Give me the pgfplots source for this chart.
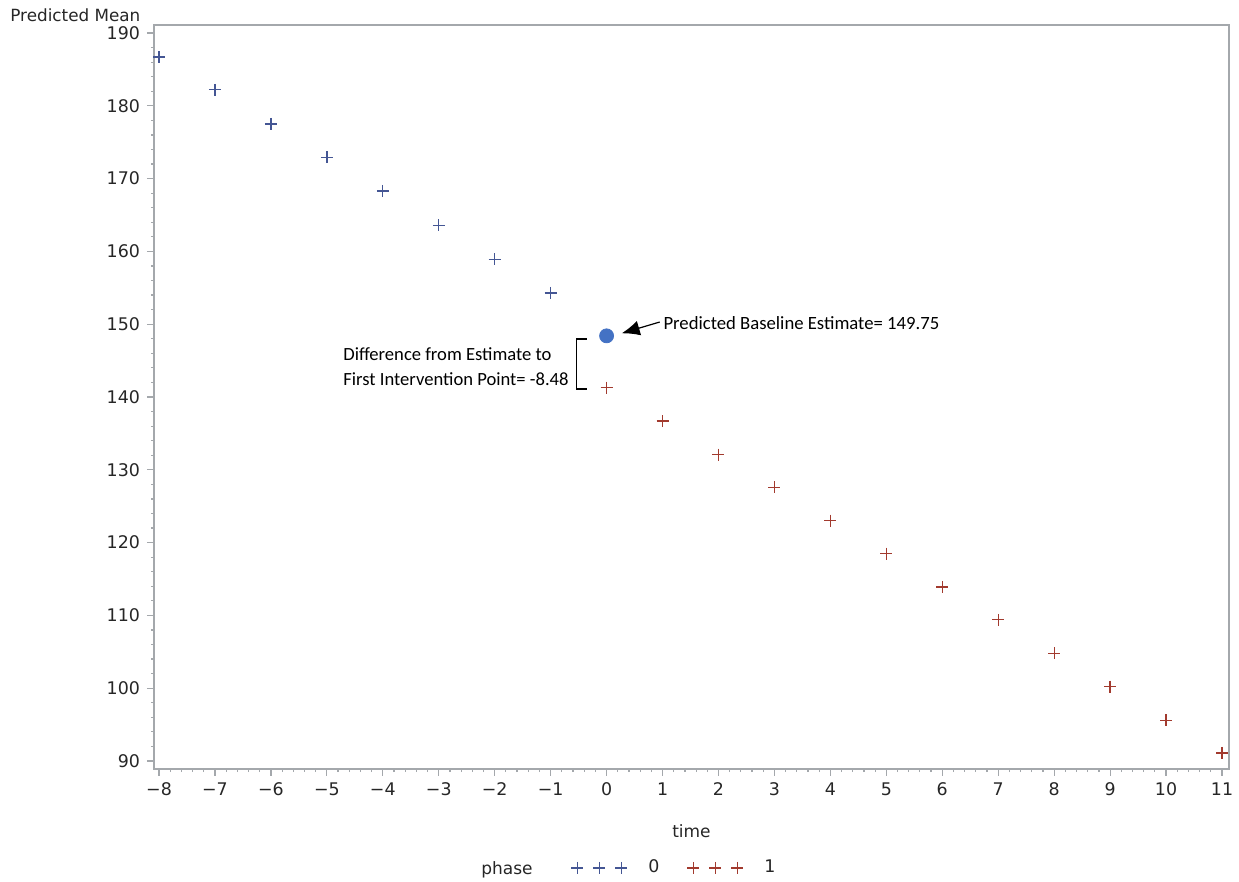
\documentclass[border=0pt]{standalone}
\usepackage{pgfplots}
\pgfplotsset{compat=1.18}
\usepackage{fontspec}
\setmainfont{DejaVu Sans}
\newfontfamily\calib{Carlito}
\usetikzlibrary{arrows.meta}
\definecolor{sasblue}{HTML}{445694}
\definecolor{sasred}{HTML}{A23A2E}
\definecolor{dotblue}{HTML}{4472C4}
\definecolor{axgray}{HTML}{A4A8AC}
\begin{document}
\begin{tikzpicture}
\useasboundingbox (-77pt,-56.5pt) rectangle (542.5pt,384.5pt);
\begin{axis}[
  scale only axis, width=537.5pt, height=372pt,
  xmin=-8.09, xmax=11.125, ymin=88.9, ymax=191.1,
  xtick={-8,...,11},
  xticklabels={−8,−7,−6,−5,−4,−3,−2,−1,0,1,2,3,4,5,6,7,8,9,10,11},
  ytick={90,100,...,190},
  minor x tick num=4, minor y tick num=4,
  tick align=outside, tick pos=left,
  axis line style={axgray, line width=0.7pt},
  tick style={axgray, line width=0.6pt},
  major tick length=3.5pt, minor tick length=1.6pt,
  ticklabel style={font=\fontsize{8.7}{10}\selectfont, text=black!85},
  /pgf/number format/assume math mode=true,
  xlabel={time},
  xlabel style={at={(axis description cs:0.5,0)}, anchor=base, yshift=-34.5pt, font=\fontsize{8.5}{10}\selectfont, text=black!85},
  legend columns=2,
  legend style={draw=none, fill=none, inner sep=0pt,
    at={(axis description cs:0,0)}, anchor=west, xshift=208.5pt, yshift=-49.5pt,
    font=\fontsize{8.7}{10}\selectfont, text=black!85,
    /tikz/every even column/.append style={column sep=3.5pt},
    nodes={inner xsep=10.5pt}},
  legend image code/.code={\draw[mark repeat=1,mark phase=1,#1] plot coordinates {(0pt,0pt)(11pt,0pt)(22pt,0pt)};},
]
\addplot[only marks, mark=+, mark size=3pt, color=sasblue, mark options={line width=0.65pt}]
  coordinates {(-8,186.7) (-7,182.2) (-6,177.5) (-5,172.9) (-4,168.3) (-3,163.6) (-2,158.9) (-1,154.3)};
\addlegendentry{0}
\addplot[only marks, mark=+, mark size=3pt, color=sasred, mark options={line width=0.65pt}]
  coordinates {(0,141.3) (1,136.7) (2,132.1) (3,127.6) (4,123.0) (5,118.5) (6,113.9) (7,109.4) (8,104.8) (9,100.2) (10,95.6) (11,91.1)};
\addlegendentry{1}
\addplot[only marks, mark=*, mark size=3.5pt, color=dotblue, forget plot]
  coordinates {(0,148.4)};
\draw[-{Latex[length=9pt,width=7.5pt]}, line width=0.6pt] (axis cs:0.95,150.3) -- (axis cs:0.27,148.75);
\node[anchor=west, inner sep=0pt, font=\calib\fontsize{9.35}{11}\selectfont] at (axis cs:1.01,150.2) {Predicted Baseline Estimate= 149.75};
\draw[line width=0.6pt] (axis cs:-0.356,147.97) -- (axis cs:-0.535,147.97) -- (axis cs:-0.535,141.1) -- (axis cs:-0.356,141.1);
\node[anchor=east, align=left, inner sep=0pt, font=\calib\fontsize{9.3}{12.5}\selectfont] at (axis cs:-0.672,144.2) {Difference from Estimate to\\First Intervention Point= -8.48};
\end{axis}
\node[anchor=base west, inner sep=0pt, font=\fontsize{8.4}{10}\selectfont, text=black!85] at (-72pt,1.5pt+372pt) {Predicted Mean};
\node[anchor=mid east, inner sep=0pt, font=\fontsize{8.5}{10}\selectfont, text=black!85] at (189.5pt,-50pt) {phase};
\end{tikzpicture}
\end{document}
